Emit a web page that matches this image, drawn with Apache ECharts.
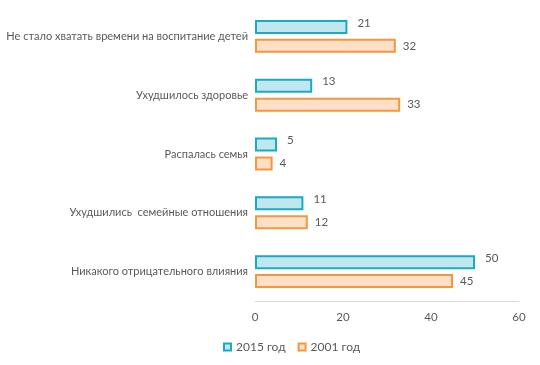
<!DOCTYPE html>
<html><head><meta charset="utf-8">
<script src="https://cdn.jsdelivr.net/npm/echarts@6/dist/echarts.min.js"></script>
<style>html,body{margin:0;padding:0;background:#fff}#c{width:540px;height:365px}</style>
</head><body><div id="c"></div>
<script>
const categories = ["Не стало хватать времени на воспитание детей","Ухудшилось здоровье","Распалась семья","Ухудшились  семейные отношения","Никакого отрицательного влияния"];
const series2015 = [21, 13, 5, 11, 50];
const series2001 = [32, 33, 4, 12, 45];
const seriesNames = ["2015 год", "2001 год"];
const xTicks = {min: 0, max: 60, interval: 20};

const font = "Lato, sans-serif";
const chart = echarts.init(document.getElementById('c'));
chart.setOption({
  animation: false,
  grid: {left: 255, right: 21, top: 7, bottom: 64, containLabel: false, outerBoundsMode: 'none'},
  legend: {
    bottom: 7, left: 218, itemWidth: 7, itemHeight: 7, itemGap: 12,
    textStyle: {color: '#595959', fontSize: 12, fontFamily: font},
    data: seriesNames.map(n => ({name: n, icon: 'rect'}))
  },
  xAxis: {
    type: 'value', min: xTicks.min, max: xTicks.max, interval: xTicks.interval,
    splitLine: {show: false},
    axisLine: {show: true, lineStyle: {color: '#d9d9d9'}},
    axisTick: {show: false},
    axisLabel: {color: '#595959', fontSize: 11.5, fontFamily: font, margin: 10}
  },
  yAxis: {
    type: 'category', inverse: true, data: categories,
    axisLine: {show: false}, axisTick: {show: false},
    axisLabel: {color: '#595959', fontSize: 11, fontFamily: font, margin: 7}
  },
  series: [
    {name: seriesNames[0], type: 'bar', data: series2015, barWidth: 14, barGap: '35%',
     itemStyle: {color: '#bfe7f0', borderColor: '#1aabc2', borderWidth: 2},
     label: {show: true, position: 'right', distance: 10, offset: [0, -4], color: '#595959', fontSize: 11.5, fontFamily: font}},
    {name: seriesNames[1], type: 'bar', data: series2001, barWidth: 14,
     itemStyle: {color: '#fde0c6', borderColor: '#f7963f', borderWidth: 2},
     label: {show: true, position: 'right', distance: 7, color: '#595959', fontSize: 11.5, fontFamily: font}}
  ]
});
</script></body></html>
